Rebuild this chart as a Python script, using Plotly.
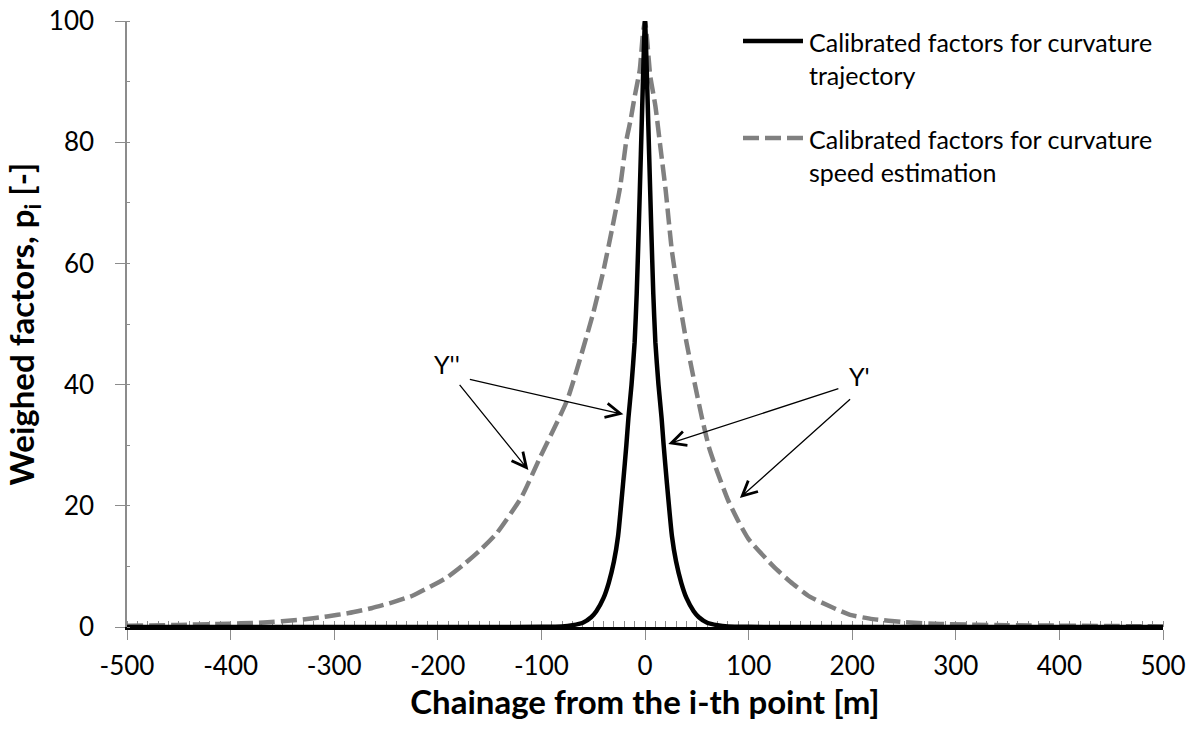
import plotly.graph_objects as go

# ---- data ----
traj_x = [-500, -150, -100, -80, -70, -60, -52, -47, -40, -35, -30, -26, -21, -18, -16, -13, -10, -8, -6, -4, -2, 0,
          2, 4, 6, 8, 10, 13, 16, 18, 21, 26, 30, 35, 40, 47, 52, 60, 70, 80, 100, 150, 500]
traj_y = [0, 0, 0.03, 0.1, 0.3, 0.7, 1.6, 2.6, 4.8, 7.3, 10.8, 15, 24, 30, 34.5, 40, 47, 55, 66, 78, 90, 100,
          90, 78, 66, 55, 47, 40, 34.5, 30, 24, 15, 10.8, 7.3, 4.8, 2.6, 1.6, 0.7, 0.3, 0.1, 0.03, 0, 0]

speed_x = [-500, -450, -413, -390, -368, -333, -307, -286, -264, -243, -224, -207, -191, -175, -159, -143, -119,
           -101, -75, -50, -40, -32, -24, -18, -14, -10, -5, -2, 0,
           2, 5, 10, 15, 20, 26, 34, 40, 47, 55, 62, 70, 80, 90, 100, 124, 140, 159, 180, 198, 220, 250, 285, 350, 500]
speed_y = [0.2, 0.35, 0.5, 0.6, 0.76, 1.2, 1.75, 2.3, 3.1, 4.1, 5.2, 6.7, 8.2, 10.3, 12.7, 15.5, 21.5,
           28.1, 37.5, 51.8, 58.9, 65.5, 72.6, 80.3, 83.6, 87.5, 92, 98, 100,
           97, 91, 86, 79, 72, 62, 53, 47, 41, 34.5, 29.5, 25.5, 21, 17.5, 14.5, 10, 7.5, 5, 3.3, 2, 1.3, 0.8, 0.5, 0.3, 0.1]

legend_names = ["Calibrated factors for curvature<br>trajectory",
                "Calibrated factors for curvature<br>speed estimation"]
x_ticks = [-500, -400, -300, -200, -100, 0, 100, 200, 300, 400, 500]
y_ticks = [0, 20, 40, 60, 80, 100]

FONT = "Lato"
GRAY = "#808080"
AX = "#8c8c8c"
DASH = "16px,6px"

fig = go.Figure()
fig.add_trace(go.Scatter(x=speed_x, y=speed_y, mode="lines", name=legend_names[1],
                         line=dict(color=GRAY, width=4.5, dash=DASH, shape="spline", smoothing=0.5),
                         showlegend=False))
fig.add_trace(go.Scatter(x=traj_x, y=traj_y, mode="lines", name=legend_names[0],
                         line=dict(color="black", width=4.5, shape="spline", smoothing=0.5),
                         showlegend=False))

# custom legend (symbol aligned with first text line, as in reference)
leg_rows = [(0.967, dict(color="black", width=4.5)), (0.807, dict(color=GRAY, width=4.5, dash=DASH))]
for (py, ln), name in zip(leg_rows, legend_names):
    fig.add_shape(type="line", xref="paper", yref="paper", x0=0.5946, x1=0.6525, y0=py, y1=py, line=ln)
    fig.add_annotation(xref="paper", yref="paper", x=0.656, y=py + 0.027, text=name, showarrow=False,
                       xanchor="left", yanchor="top", align="left",
                       font=dict(family=FONT, size=25, color="black"))

# Y'' / Y' labels and arrows
fig.add_annotation(x=-176.5, y=43.4, text="Y''", showarrow=False, xanchor="right",
                   font=dict(family=FONT, size=25, color="black"))
fig.add_annotation(x=194.5, y=41.5, text="Y'", showarrow=False, xanchor="left",
                   font=dict(family=FONT, size=25, color="black"))
arrows = [(-170.5, 40.9, -20.9, 35.1), (-180.1, 40.2, -112.6, 25.9),
          (188.1, 39.4, 22.5, 30.2), (199.4, 37.8, 91.6, 21.3)]
for ax_, ay_, x_, y_ in arrows:
    fig.add_annotation(x=x_, y=y_, ax=ax_, ay=ay_, xref="x", yref="y", axref="x", ayref="y", text="",
                       showarrow=True, arrowhead=5, arrowsize=2.2, arrowwidth=1.3, arrowcolor="black")

fig.update_layout(
    width=1192, height=735,
    margin=dict(l=127, r=29, t=21, b=108, autoexpand=False),
    paper_bgcolor="white", plot_bgcolor="white",
    font=dict(family=FONT, color="black"),
    showlegend=False,
)
fig.update_xaxes(
    automargin=False,
    range=[-500, 500], tickvals=x_ticks, ticktext=[str(v) for v in x_ticks],
    showgrid=False, zeroline=False, showline=True, linecolor="black", linewidth=3, layer="below traces",
    ticks="outside", ticklen=10, tickwidth=1.3, tickcolor=AX,
    minor=dict(dtick=10, ticks="inside", ticklen=6, tickwidth=1, tickcolor=AX),
    tickfont=dict(family=FONT, size=26, color="black"), ticklabelstandoff=4,
    title=dict(text="<b>Chainage from the i-th point [m]</b>", font=dict(family=FONT, size=33, color="black"),
               standoff=10),
)
fig.update_yaxes(
    automargin=False,
    range=[0, 100], tickvals=y_ticks, ticktext=[str(v) for v in y_ticks],
    showgrid=False, zeroline=False, showline=True, linecolor=AX, linewidth=1.5,
    ticks="outside", ticklen=10, tickwidth=1.3, tickcolor=AX,
    minor=dict(dtick=10, ticks="inside", ticklen=3, tickwidth=1, tickcolor=AX),
    tickfont=dict(family=FONT, size=26, color="black"), ticklabelstandoff=16,
    title=dict(text="<b>Weighed factors, p<sub>i</sub> [-]</b>", font=dict(family=FONT, size=33, color="black"),
               standoff=4),
)

fig.write_html("out.html")
